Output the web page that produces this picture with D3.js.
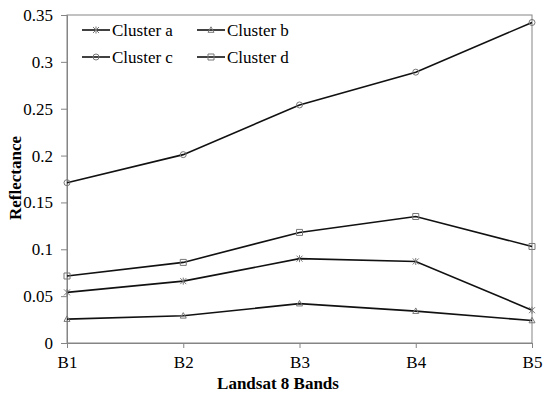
<html>
<head>
<meta charset="utf-8">
<style>
  body { margin: 0; background: #fff; }
  svg text { font-family: 'Liberation Serif', 'Times New Roman', serif !important; fill: #000; }
</style>
</head>
<body>
<div id="chart"></div>
<script src="https://d3js.org/d3.v7.min.js"></script>
<script>
  const bands = ["B1", "B2", "B3", "B4", "B5"]
  const clusterA = [0.054, 0.066, 0.090, 0.087, 0.035]
  const clusterB = [0.0255, 0.029, 0.042, 0.034, 0.024]
  const clusterC = [0.171, 0.201, 0.254, 0.289, 0.342]
  const clusterD = [0.0715, 0.086, 0.118, 0.135, 0.103]
  const yTicks = [0, 0.05, 0.1, 0.15, 0.2, 0.25, 0.3, 0.35]

  const series = [
    { name: "Cluster a", values: clusterA, marker: "star" },
    { name: "Cluster b", values: clusterB, marker: "triangle" },
    { name: "Cluster c", values: clusterC, marker: "circle" },
    { name: "Cluster d", values: clusterD, marker: "square" }
  ]

  const width = 550, height = 398
  const margin = { top: 15, right: 18, bottom: 55, left: 67 }
  const w = width - margin.left - margin.right
  const h = height - margin.top - margin.bottom

  const svg = d3.select("#chart").append("svg")
    .attr("width", width)
    .attr("height", height)
    .style("font-family", "'Liberation Serif', serif")

  const g = svg.append("g").attr("transform", `translate(${margin.left},${margin.top})`)

  const x = d3.scalePoint().domain(bands).range([0, w]).padding(0)
  const y = d3.scaleLinear().domain([0, 0.35]).range([h, 0])

  // frame
  g.append("rect")
    .attr("width", w).attr("height", h)
    .attr("fill", "none").attr("stroke", "#858585").attr("stroke-width", 1)

  const yAxis = g.append("g")
    .call(d3.axisLeft(y).tickValues(yTicks).tickSize(6).tickPadding(8)
      .tickFormat(d => d === 0 ? "0" : String(+d.toFixed(2))))
  const xAxis = g.append("g").attr("transform", `translate(0,${h})`)
    .call(d3.axisBottom(x).tickSize(5).tickPadding(8))
  for (const ax of [yAxis, xAxis]) {
    ax.attr("font-family", null)
    ax.select(".domain").attr("stroke", "#858585")
    ax.selectAll(".tick line").attr("stroke", "#858585")
    ax.selectAll("text").style("font-size", "17px").attr("fill", "#000")
  }

  const line = d3.line().x((d, i) => x(bands[i])).y(d => y(d))

  const markerPath = {
    star: "M-3,-3L3,3M-3,3L3,-3M0,-3.5L0,3.5",
    triangle: "M0,-3.2L3,2.3L-3,2.3Z",
    circle: "M3,0A3,3 0 1 1 -3,0A3,3 0 1 1 3,0Z",
    square: "M-3,-3H3V3H-3Z"
  }

  function drawMarker(sel, type) {
    sel.append("path")
      .attr("d", markerPath[type])
      .attr("fill", "none")
      .attr("stroke", "#777")
      .attr("stroke-width", 1)
  }

  series.forEach(s => {
    g.append("path")
      .datum(s.values)
      .attr("d", line)
      .attr("fill", "none")
      .attr("stroke", "#111")
      .attr("stroke-width", 1.6)
    s.values.forEach((v, i) => {
      const m = g.append("g").attr("transform", `translate(${x(bands[i])},${y(v)})`)
      drawMarker(m, s.marker)
    })
  })

  // legend
  const legend = g.append("g")
  series.forEach((s, i) => {
    const col = i % 2, row = Math.floor(i / 2)
    const lx = 15 + col * 115, ly = 15 + row * 27
    const item = legend.append("g").attr("transform", `translate(${lx},${ly})`)
    item.append("line").attr("x1", 0).attr("x2", 28).attr("stroke", "#111").attr("stroke-width", 1.6)
    drawMarker(item.append("g").attr("transform", "translate(14,0)"), s.marker)
    item.append("text").attr("x", 30).attr("dy", "0.35em")
      .style("font-size", "17px").text(s.name)
  })

  // axis titles
  svg.append("text")
    .attr("x", 278).attr("y", 389)
    .attr("text-anchor", "middle")
    .style("font-size", "17px").style("font-weight", "bold")
    .text("Landsat 8 Bands")
  svg.append("text")
    .attr("transform", `translate(21,178) rotate(-90)`)
    .attr("text-anchor", "middle")
    .style("font-size", "17px").style("font-weight", "bold")
    .text("Reflectance")
</script>
</body>
</html>
